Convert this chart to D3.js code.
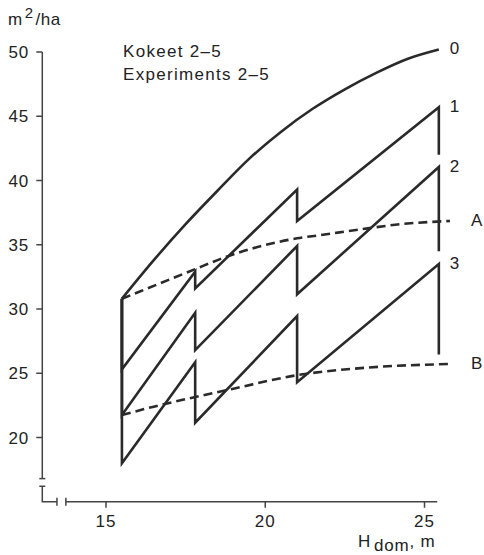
<!DOCTYPE html>
<html>
<head>
<meta charset="utf-8">
<script src="https://cdn.jsdelivr.net/npm/d3@7"></script>
<style>
  html, body { margin: 0; padding: 0; background: #fff; }
  text { font-family: "Liberation Sans", Arial, sans-serif; fill: #222; }
</style>
</head>
<body>
<div id="container"></div>
<script>
let w = 484;
let h = 555;

// thinning heights (H dom, m)
let stepX = [15.5, 15.5, 17.8, 17.8, 21.0, 21.0, 25.45, 25.45];
// basal area m2/ha for the thinning programmes
let series1 = [30.8, 25.3, 32.9, 31.6, 39.3, 36.85, 45.7, 42.0];
let series2 = [30.8, 21.75, 29.7, 26.8, 34.9, 31.15, 41.05, 34.5];
let series3 = [30.8, 18.0, 25.85, 21.15, 29.45, 24.3, 33.5, 26.45];

// unthinned curve 0
let curve0X = [15.5, 16.5, 17.5, 18.5, 19.5, 20.5, 21.5, 22.5, 23.5, 24.5, 25.45];
let curve0Y = [30.8, 33.8, 36.6, 39.2, 41.7, 43.8, 45.6, 47.1, 48.4, 49.5, 50.2];

// dashed limit curves A and B
let curveAX = [15.5, 17.8, 18.6, 21.0, 21.73, 23.0, 24.25, 25.8];
let curveAY = [30.8, 33.1, 33.9, 35.5, 35.75, 36.2, 36.6, 36.85];
let curveBX = [15.5, 16.5, 17.8, 19.0, 21.0, 23.0, 25.8];
let curveBY = [21.75, 22.4, 23.15, 23.8, 24.85, 25.4, 25.72];

let yTicks = [20, 25, 30, 35, 40, 45, 50];
let xTicks = [15, 20, 25];
let curveLabels = ["0", "1", "2", "3"];

let ink = "#2a2a2a";
let axisInk = "#444";

let viz = d3.select("#container")
  .append("svg")
  .attr("width", w)
  .attr("height", h)
  .style("background-color", "#fff");

let xScale = d3.scaleLinear().domain([15, 25]).range([106, 424.5]);
let yScale = d3.scaleLinear().domain([20, 50]).range([437.5, 52]);

// axes with breaks
let x0 = xScale(13);
let y0 = yScale(15);

let axes = viz.append("g")
  .attr("stroke", axisInk)
  .attr("stroke-width", 1.5)
  .attr("fill", "none");

// y axis upper piece
axes.append("line")
  .attr("x1", x0).attr("x2", x0)
  .attr("y1", yScale(50)).attr("y2", yScale(16.8));
axes.append("line")
  .attr("x1", x0 - 3).attr("x2", x0 + 3)
  .attr("y1", yScale(16.8)).attr("y2", yScale(16.8));
// y axis lower piece + x axis left piece
axes.append("path")
  .attr("d", "M" + (x0 - 3) + "," + yScale(16.2) + "H" + (x0 + 3) +
    "M" + x0 + "," + yScale(16.2) + "V" + y0 + "H" + xScale(13.46));
axes.append("line")
  .attr("x1", xScale(13.46)).attr("x2", xScale(13.46))
  .attr("y1", y0 - 4).attr("y2", y0 + 4);
// x axis main piece
axes.append("line")
  .attr("x1", xScale(13.74)).attr("x2", xScale(13.74))
  .attr("y1", y0 - 4).attr("y2", y0 + 4);
axes.append("line")
  .attr("x1", xScale(13.74)).attr("x2", xScale(25.4))
  .attr("y1", y0).attr("y2", y0);

// ticks
axes.selectAll(".ytick")
  .data(yTicks)
  .enter()
  .append("line")
  .attr("class", "ytick")
  .attr("x1", x0 - 6).attr("x2", x0)
  .attr("y1", d => yScale(d)).attr("y2", d => yScale(d));

axes.selectAll(".xtick")
  .data(xTicks)
  .enter()
  .append("line")
  .attr("class", "xtick")
  .attr("x1", d => xScale(d)).attr("x2", d => xScale(d))
  .attr("y1", y0).attr("y2", y0 + 6);

viz.selectAll(".ylab")
  .data(yTicks)
  .enter()
  .append("text")
  .attr("class", "ylab")
  .attr("x", x0 - 13)
  .attr("y", d => yScale(d) + 6)
  .attr("text-anchor", "end")
  .attr("font-size", "17px")
  .attr("letter-spacing", "1px")
  .text(d => d);

viz.selectAll(".xlab")
  .data(xTicks)
  .enter()
  .append("text")
  .attr("class", "xlab")
  .attr("x", d => xScale(d))
  .attr("y", 527)
  .attr("text-anchor", "middle")
  .attr("font-size", "17px")
  .attr("letter-spacing", "1px")
  .text(d => d);

// axis titles
let yTitle = viz.append("text")
  .attr("x", 8)
  .attr("y", 25)
  .attr("font-size", "17px")
  .attr("letter-spacing", "0.5px");
yTitle.append("tspan").text("m");
yTitle.append("tspan").attr("dy", -7).attr("dx", 2).attr("font-size", "15px").text("2");
yTitle.append("tspan").attr("dy", 7).attr("dx", 2).text("/ha");

let xTitle = viz.append("text")
  .attr("x", 358)
  .attr("y", 547)
  .attr("font-size", "17px")
  .attr("letter-spacing", "0.8px");
xTitle.append("tspan").text("H");
xTitle.append("tspan").attr("dy", 4).attr("dx", 3).text("dom");
xTitle.append("tspan").attr("dy", -4).text(", m");

// experiment note
viz.append("text")
  .attr("x", 123).attr("y", 57)
  .attr("font-size", "17px")
  .attr("letter-spacing", "1.3px")
  .text("Kokeet 2–5");
viz.append("text")
  .attr("x", 123).attr("y", 80)
  .attr("font-size", "17px")
  .attr("letter-spacing", "1.3px")
  .text("Experiments 2–5");

// lines
let zigzag = d3.line()
  .x((d, i) => xScale(stepX[i]))
  .y(d => yScale(d));

let smooth = d3.line()
  .x(d => xScale(d[0]))
  .y(d => yScale(d[1]))
  .curve(d3.curveMonotoneX);

let plot = viz.append("g")
  .attr("fill", "none")
  .attr("stroke", ink)
  .attr("stroke-width", 2.6)
  .attr("stroke-linejoin", "miter");

[series1, series2, series3].forEach(s => {
  plot.append("path").attr("d", zigzag(s));
});

plot.append("path")
  .attr("d", smooth(d3.zip(curve0X, curve0Y)));

plot.append("path")
  .attr("stroke-dasharray", "9,5")
  .attr("d", smooth(d3.zip(curveAX, curveAY)));

plot.append("path")
  .attr("stroke-dasharray", "9,5")
  .attr("d", smooth(d3.zip(curveBX, curveBY)));

// end labels
let endValues = [curve0Y[curve0Y.length - 1], series1[6], series2[6], series3[6]];
viz.selectAll(".endlab")
  .data(curveLabels)
  .enter()
  .append("text")
  .attr("class", "endlab")
  .attr("x", xScale(25.45) + 11)
  .attr("y", (d, i) => yScale(endValues[i]) + 5)
  .attr("font-size", "17px")
  .text(d => d);

viz.append("text")
  .attr("x", xScale(25.8) + 21)
  .attr("y", yScale(curveAY[curveAY.length - 1]) + 5)
  .attr("font-size", "17px")
  .text("A");
viz.append("text")
  .attr("x", xScale(25.8) + 21)
  .attr("y", yScale(curveBY[curveBY.length - 1]) + 5)
  .attr("font-size", "17px")
  .text("B");
</script>
</body>
</html>
